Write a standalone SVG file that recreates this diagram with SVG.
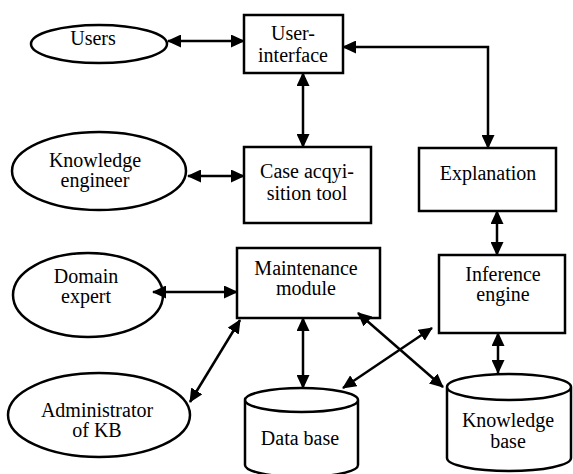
<svg xmlns="http://www.w3.org/2000/svg" width="573" height="474" viewBox="0 0 573 474">
<defs>
<marker id="ah" markerUnits="userSpaceOnUse" markerWidth="14" markerHeight="13" refX="13" refY="6.5" orient="auto-start-reverse" viewBox="0 0 14 13">
<path d="M0,0 L14,6.5 L0,13 z" fill="#000"/>
</marker>
</defs>
<rect width="573" height="474" fill="#fff"/>
<g id="users"><ellipse cx="99" cy="44" rx="68" ry="19" fill="#fff" stroke="#000" stroke-width="2.5"/><text x="93" y="45" font-size="20" font-family="Times New Roman, Liberation Serif, Tinos, serif" text-anchor="middle">Users</text></g>
<g id="user-interface"><rect x="244" y="15" width="99" height="58" fill="#fff" stroke="#000" stroke-width="2.5"/><text x="293" y="40" font-size="20" font-family="Times New Roman, Liberation Serif, Tinos, serif" text-anchor="middle">User-</text><text x="293" y="62" font-size="20" font-family="Times New Roman, Liberation Serif, Tinos, serif" text-anchor="middle">interface</text></g>
<g id="knowledge-engineer"><ellipse cx="99" cy="171" rx="87" ry="39" fill="#fff" stroke="#000" stroke-width="2.5"/><text x="95" y="167" font-size="20" font-family="Times New Roman, Liberation Serif, Tinos, serif" text-anchor="middle">Knowledge</text><text x="95" y="187" font-size="20" font-family="Times New Roman, Liberation Serif, Tinos, serif" text-anchor="middle">engineer</text></g>
<g id="case-tool"><rect x="244" y="147" width="127" height="76" fill="#fff" stroke="#000" stroke-width="2.5"/><text x="307" y="178" font-size="20" font-family="Times New Roman, Liberation Serif, Tinos, serif" text-anchor="middle">Case acqyi-</text><text x="307" y="200" font-size="20" font-family="Times New Roman, Liberation Serif, Tinos, serif" text-anchor="middle">sition tool</text></g>
<g id="explanation"><rect x="419" y="148" width="137" height="63" fill="#fff" stroke="#000" stroke-width="2.5"/><text x="488" y="180" font-size="20" font-family="Times New Roman, Liberation Serif, Tinos, serif" text-anchor="middle">Explanation</text></g>
<g id="domain-expert"><ellipse cx="88" cy="295" rx="75" ry="42" fill="#fff" stroke="#000" stroke-width="2.5"/><text x="86" y="283" font-size="20" font-family="Times New Roman, Liberation Serif, Tinos, serif" text-anchor="middle">Domain</text><text x="86" y="303" font-size="20" font-family="Times New Roman, Liberation Serif, Tinos, serif" text-anchor="middle">expert</text></g>
<g id="maintenance"><rect x="237" y="248" width="143" height="70" fill="#fff" stroke="#000" stroke-width="2.5"/><text x="306" y="275" font-size="20" font-family="Times New Roman, Liberation Serif, Tinos, serif" text-anchor="middle">Maintenance</text><text x="306" y="295" font-size="20" font-family="Times New Roman, Liberation Serif, Tinos, serif" text-anchor="middle">module</text></g>
<g id="inference"><rect x="439" y="255" width="126" height="78" fill="#fff" stroke="#000" stroke-width="2.5"/><text x="503" y="281" font-size="20" font-family="Times New Roman, Liberation Serif, Tinos, serif" text-anchor="middle">Inference</text><text x="503" y="301" font-size="20" font-family="Times New Roman, Liberation Serif, Tinos, serif" text-anchor="middle">engine</text></g>
<g id="administrator"><ellipse cx="99" cy="415" rx="91" ry="42" fill="#fff" stroke="#000" stroke-width="2.5"/><text x="97" y="417" font-size="20" font-family="Times New Roman, Liberation Serif, Tinos, serif" text-anchor="middle">Administrator</text><text x="97" y="437" font-size="20" font-family="Times New Roman, Liberation Serif, Tinos, serif" text-anchor="middle">of KB</text></g>
<g id="database"><path d="M245,400 L245,465 A56.5,12 0 0 0 358,465 L358,400 A56.5,12 0 0 0 245,400 A56.5,12 0 0 0 358,400" fill="#fff" stroke="#000" stroke-width="2.5"/><text x="300" y="445" font-size="20" font-family="Times New Roman, Liberation Serif, Tinos, serif" text-anchor="middle">Data base</text></g>
<g id="knowledge-base"><path d="M447,387 L447,458 A62,13 0 0 0 571,458 L571,387 A62,13 0 0 0 447,387 A62,13 0 0 0 571,387" fill="#fff" stroke="#000" stroke-width="2.5"/><text x="508" y="427" font-size="20" font-family="Times New Roman, Liberation Serif, Tinos, serif" text-anchor="middle">Knowledge</text><text x="508" y="448" font-size="20" font-family="Times New Roman, Liberation Serif, Tinos, serif" text-anchor="middle">base</text></g>
<g id="connectors" fill="none" stroke="#000" stroke-width="2.5" marker-start="url(#ah)" marker-end="url(#ah)">
<path d="M168,41 L244,41"/>
<path d="M343,47 L488,47 L488,148"/>
<path d="M303,73 L303,147"/>
<path d="M188,176 L244,176"/>
<path d="M497,211 L497,255"/>
<path d="M153,292 L237,292"/>
<path d="M190,402 L240,320"/>
<path d="M303,318 L303,388"/>
<path d="M358,313 L443,387"/>
<path d="M432,328 L343,388"/>
<path d="M498,333 L498,373"/>
</g>
</svg>
